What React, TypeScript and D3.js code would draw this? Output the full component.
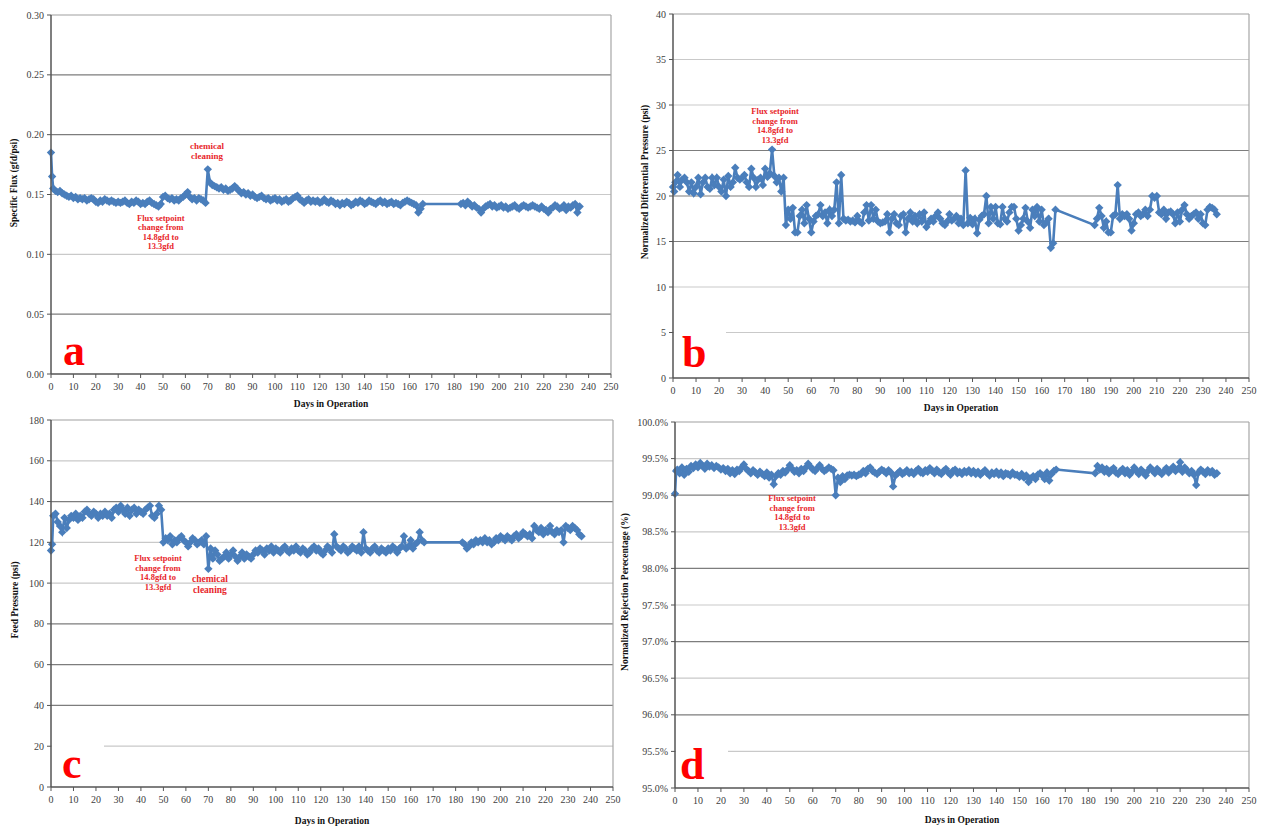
import React from 'react'
import * as d3 from 'd3'

// Days in operation (shared by all four series)
const days = [
  0, 0.5, 1, 2, 3, 4, 5, 6, 7, 8,
  9, 10, 11, 12, 13, 14, 15, 16, 17, 18,
  19, 20, 21, 22, 23, 24, 25, 26, 27, 28,
  29, 30, 31, 32, 33, 34, 35, 36, 37, 38,
  39, 40, 41, 42, 43, 44, 45, 46, 47, 48,
  49, 50, 51, 52, 53, 54, 55, 56, 57, 58,
  59, 60, 61, 62, 63, 64, 65, 66, 67, 68,
  69, 70, 71, 72, 73, 74, 75, 76, 77, 78,
  79, 80, 81, 82, 83, 84, 85, 86, 87, 88,
  89, 90, 91, 92, 93, 94, 95, 96, 97, 98,
  99, 100, 101, 102, 103, 104, 105, 106, 107, 108,
  109, 110, 111, 112, 113, 114, 115, 116, 117, 118,
  119, 120, 121, 122, 123, 124, 125, 126, 127, 128,
  129, 130, 131, 132, 133, 134, 135, 136, 137, 138,
  139, 140, 141, 142, 143, 144, 145, 146, 147, 148,
  149, 150, 151, 152, 153, 154, 155, 156, 157, 158,
  159, 160, 161, 162, 163, 164, 165, 166,
  183, 184, 185, 186, 187, 188, 189, 190, 191, 192,
  193, 194, 195, 196, 197, 198, 199, 200, 201, 202,
  203, 204, 205, 206, 207, 208, 209, 210, 211, 212,
  213, 214, 215, 216, 217, 218, 219, 220, 221, 222,
  223, 224, 225, 226, 227, 228, 229, 230, 231, 232,
  233, 234, 235, 236,
]

// (a) specific flux, gfd/psi
const fluxValues = [
  0.185, 0.165, 0.155, 0.153, 0.152, 0.153, 0.151, 0.150, 0.149, 0.148,
  0.149, 0.147, 0.148, 0.146, 0.147, 0.146, 0.147, 0.145, 0.146, 0.147,
  0.146, 0.144, 0.143, 0.145, 0.144, 0.146, 0.145, 0.144, 0.145, 0.144,
  0.143, 0.144, 0.143, 0.144, 0.145, 0.143, 0.142, 0.144, 0.143, 0.145,
  0.144, 0.142, 0.143, 0.142, 0.144, 0.145, 0.143, 0.142, 0.141, 0.140,
  0.142, 0.148, 0.149, 0.147, 0.146, 0.147, 0.145, 0.146, 0.145, 0.147,
  0.148, 0.150, 0.152, 0.148, 0.146, 0.147, 0.145, 0.147, 0.146, 0.145,
  0.143, 0.171, 0.160, 0.158, 0.157, 0.156, 0.155, 0.156, 0.154, 0.155,
  0.153, 0.154, 0.155, 0.157, 0.155, 0.153, 0.151, 0.152, 0.150, 0.151,
  0.149, 0.150, 0.148, 0.147, 0.148, 0.149, 0.147, 0.146, 0.147, 0.145,
  0.146, 0.147, 0.145, 0.146, 0.144, 0.145, 0.146, 0.144, 0.145, 0.147,
  0.148, 0.149, 0.146, 0.145, 0.143, 0.145, 0.146, 0.144, 0.145, 0.144,
  0.145, 0.143, 0.144, 0.146, 0.144, 0.143, 0.145, 0.144, 0.142, 0.143,
  0.141, 0.143, 0.142, 0.144, 0.143, 0.141, 0.142, 0.144, 0.143, 0.145,
  0.144, 0.142, 0.143, 0.145, 0.144, 0.143, 0.142, 0.144, 0.145, 0.143,
  0.144, 0.142, 0.143, 0.144, 0.142, 0.143, 0.142, 0.141, 0.143, 0.144,
  0.145, 0.144, 0.143, 0.142, 0.141, 0.135, 0.138, 0.142,
  0.142, 0.143, 0.141, 0.144, 0.142, 0.140, 0.141, 0.139, 0.138, 0.135,
  0.138, 0.140, 0.141, 0.142, 0.140, 0.141, 0.139, 0.140, 0.141, 0.139,
  0.140, 0.138, 0.139, 0.140, 0.141, 0.139, 0.138, 0.140, 0.141, 0.140,
  0.139, 0.140, 0.141, 0.140, 0.139, 0.138, 0.140, 0.138, 0.137, 0.135,
  0.138, 0.139, 0.141, 0.140, 0.138, 0.139, 0.141, 0.137, 0.140, 0.139,
  0.141, 0.142, 0.135, 0.140,
]

// (b) normalized differential pressure, psi
const dpValues = [
  21, 20.5, 21.5, 22.3, 21, 21.8, 22, 21.5, 20.5, 21.5,
  20.3, 21, 22, 20.2, 21.5, 22, 21, 20.8, 22, 21.2,
  22, 21, 20.5, 21.8, 20, 22.2, 21, 21.5, 23.1, 22,
  21.8, 22, 22.3, 21.5, 21, 23, 22, 21, 21.8, 22,
  21.2, 23, 22.1, 22.5, 25.1, 22.2, 21.5, 22, 20.5, 22,
  16.8, 18.5, 17.5, 18.7, 16, 16, 17.8, 18.5, 17, 19,
  17.5, 16, 17.2, 17.8, 18, 19, 17.8, 18.2, 17, 18.5,
  17.8, 18.5, 21.5, 17, 22.3, 17.5, 17.3, 17.4, 17.2, 17.3,
  17.1, 17.8, 17.2, 17, 18.2, 19, 17.3, 19, 17.5, 18.5,
  17.2, 17, 17.1, 17.2, 18, 16, 17.5, 18, 17, 16.8,
  17.8, 18, 16, 17.5, 18.2, 17.2, 17.8, 17, 18, 17.2,
  18.2, 16.6, 17.1, 17.5, 17.2, 17.8, 18.2, 17.5, 17, 16.8,
  17.2, 18, 17.3, 17.5, 17.8, 17, 17.5, 16.8, 22.8, 17,
  17.6, 16.9, 17.5, 15.9, 17.4, 17.8, 18, 20, 17, 18.8,
  17.5, 18.8, 17, 16.9, 18.8, 17.5, 17.2, 18.2, 18.8, 18.8,
  17.5, 16.2, 16.8, 17.5, 18.7, 17.2, 16.5, 18.5, 17.8, 18.8,
  17.2, 18.5, 16.8, 17.1, 17.5, 14.3, 14.8, 18.5,
  16.8, 17.5, 18.7, 17.8, 16.5, 17.2, 16, 16, 17.8, 18,
  21.2, 17.5, 18, 17.8, 18, 17.5, 16.2, 17, 18, 18.2,
  17.8, 18, 18.5, 17.8, 18.5, 20, 19.8, 20, 18.2, 18,
  18.5, 17.5, 18.2, 18.3, 18, 17, 18.2, 17.2, 18.5, 19,
  18, 17.5, 17.8, 18, 18.2, 17.5, 18, 17, 16.8, 18.5,
  18.8, 18.7, 18.5, 18,
]

// (c) feed pressure, psi
const feedValues = [
  116, 119, 133, 134, 130, 128, 125, 132, 127, 131,
  133, 132, 134, 131, 133, 132, 135, 136, 134, 133,
  135, 134, 132, 134, 133, 135, 133, 134, 132, 136,
  137, 135, 138, 136, 134, 137, 133, 136, 137, 134,
  136, 135, 134, 136, 137, 138, 133, 132, 134, 138,
  136, 120, 122, 121, 123, 119, 121, 120, 122, 123,
  121, 120, 118, 120, 122, 121, 119, 120, 121, 119,
  123, 107, 117, 112, 116, 114, 111, 112, 113, 115,
  112, 114, 116, 113, 111, 113, 115, 112, 114, 113,
  112, 114, 116, 115, 117, 116, 114, 117, 116, 118,
  115, 117, 116, 115, 117, 118, 116, 115, 117, 116,
  118, 116, 115, 117, 116, 114, 115, 117, 118, 116,
  117, 115, 114, 116, 118, 117, 115, 124, 118, 117,
  116, 118, 117, 115, 116, 118, 117, 116, 118, 115,
  125, 117, 116, 115, 117, 118, 116, 115, 117, 116,
  115, 117, 116, 118, 117, 115, 117, 118, 123, 117,
  118, 121, 117, 119, 120, 125, 121, 120,
  120, 119, 117, 118, 120, 119, 121, 120, 121, 120,
  122, 120, 121, 119, 120, 122, 121, 123, 122, 121,
  123, 122, 121, 123, 124, 122, 123, 125, 124, 123,
  124, 122, 128, 126, 125, 127, 124, 126, 125, 128,
  125, 124, 126, 125, 126, 120, 128, 127, 126, 128,
  127, 126, 124, 123,
]

// (d) normalized rejection, %
const rejectionValues = [
  99.02, 99.33, 99.35, 99.30, 99.38, 99.28, 99.36, 99.32, 99.40, 99.37,
  99.42, 99.38, 99.44, 99.40, 99.36, 99.43, 99.39, 99.41, 99.37, 99.40,
  99.38, 99.35, 99.37, 99.33, 99.36, 99.30, 99.34, 99.29, 99.35, 99.33,
  99.38, 99.42, 99.36, 99.33, 99.30, 99.34, 99.31, 99.28, 99.32, 99.29,
  99.26, 99.31, 99.24, 99.28, 99.15, 99.26, 99.30, 99.28, 99.33, 99.31,
  99.35, 99.41, 99.36, 99.32, 99.34, 99.30, 99.36, 99.33, 99.38, 99.43,
  99.39, 99.35, 99.33, 99.37, 99.41, 99.36, 99.33, 99.35, 99.38, 99.36,
  99.34, 99.00, 99.24, 99.18, 99.26, 99.22, 99.27, 99.28, 99.27, 99.28,
  99.26, 99.28, 99.29, 99.33, 99.30, 99.36, 99.38, 99.33, 99.31, 99.29,
  99.32, 99.35, 99.33, 99.30, 99.34, 99.31, 99.12, 99.27, 99.30, 99.33,
  99.29, 99.31, 99.34, 99.30, 99.32, 99.29, 99.33, 99.36, 99.31, 99.30,
  99.34, 99.32, 99.37, 99.33, 99.30, 99.35, 99.31, 99.29, 99.33, 99.36,
  99.31, 99.28, 99.33, 99.35, 99.30, 99.32, 99.29, 99.33, 99.31, 99.34,
  99.30, 99.33, 99.29, 99.32, 99.28, 99.31, 99.34, 99.30, 99.27, 99.31,
  99.29, 99.32, 99.28, 99.31, 99.26, 99.30, 99.29, 99.27, 99.31, 99.28,
  99.28, 99.25, 99.29, 99.24, 99.27, 99.18, 99.23, 99.26, 99.22, 99.28,
  99.30, 99.27, 99.22, 99.31, 99.20, 99.29, 99.33, 99.35,
  99.30, 99.40, 99.35, 99.38, 99.32, 99.36, 99.30, 99.34, 99.37, 99.31,
  99.29, 99.33, 99.36, 99.30, 99.34, 99.28, 99.32, 99.38, 99.33, 99.29,
  99.35, 99.31, 99.27, 99.33, 99.38, 99.34, 99.30, 99.36, 99.32, 99.29,
  99.33, 99.37, 99.31, 99.35, 99.39, 99.33, 99.36, 99.45, 99.32, 99.38,
  99.34, 99.30, 99.33, 99.28, 99.14, 99.31, 99.35, 99.32, 99.29, 99.34,
  99.31, 99.33, 99.28, 99.30,
]

const dayTicks = [0, 10, 20, 30, 40, 50, 60, 70, 80, 90, 100, 110, 120, 130, 140, 150, 160, 170, 180, 190, 200, 210, 220, 230, 240, 250]
const fluxTicks = [0, 0.05, 0.1, 0.15, 0.2, 0.25, 0.3]
const dpTicks = [0, 5, 10, 15, 20, 25, 30, 35, 40]
const feedTicks = [0, 20, 40, 60, 80, 100, 120, 140, 160, 180]
const rejectionTicks = [95, 95.5, 96, 96.5, 97, 97.5, 98, 98.5, 99, 99.5, 100]

const fluxNote = ['Flux setpoint', 'change from', '14.8gfd to', '13.3gfd']
const cleaningNote = ['chemical', 'cleaning']

const BLUE = '#4a7ebb'
const RED = '#e8262b'
const SERIF = '"Liberation Serif", "Times New Roman", serif'
const diamond = 'M0,-4.2L4.2,0L0,4.2L-4.2,0Z'

type Note = { day: number, value: number, lines: string[], size: number, lh: number }

type PanelProps = {
  x0: number, x1: number, yTop: number, yBottom: number
  values: number[], yTicks: number[], fmt: (v: number) => string
  darkTicks: number[]
  yTitle: string, titleX: number, titleY: number, xTitleY: number
  letter: string, letterDx: number, letterDy: number, box: boolean
  notes: Note[]
}

const Panel = (p: PanelProps) => {
  const x = d3.scaleLinear().domain([0, 250]).range([p.x0, p.x1])
  const y = d3.scaleLinear().domain(d3.extent(p.yTicks) as [number, number]).range([p.yBottom, p.yTop])
  const pts = days.map((d, i) => [d, p.values[i]] as [number, number]).filter(d => d[1] !== undefined)
  const line = d3.line<[number, number]>().x(d => x(d[0])).y(d => y(d[1]))
  const yMin = p.yTicks[0]

  return (
    <g>
      {/* gridlines */}
      {p.yTicks.filter(t => t !== yMin).map(t => (
        <line key={t} x1={p.x0} x2={p.x1} y1={y(t)} y2={y(t)}
          stroke={t === p.yTicks[p.yTicks.length - 1] ? '#a0a0a0' : p.darkTicks.includes(t) ? '#7d7d7d' : '#c9c9c9'}
          strokeWidth={1.2} />
      ))}
      <line x1={p.x1} x2={p.x1} y1={p.yTop} y2={p.yBottom} stroke="#a6a6a6" strokeWidth={1.2} />

      {/* series */}
      <path d={line(pts) || ''} fill="none" stroke={BLUE} strokeWidth={2.6} />
      {pts.map((d, i) => (
        <path key={i} d={diamond} transform={`translate(${x(d[0])},${y(d[1])})`} fill={BLUE} />
      ))}

      {/* letter box */}
      {p.box && <rect x={p.x0 + 1} y={p.yBottom - 50} width={52} height={49} fill="#fff" />}

      {/* axes */}
      <line x1={p.x0} x2={p.x0} y1={p.yTop} y2={p.yBottom} stroke="#555" strokeWidth={1.5} />
      <line x1={p.x0} x2={p.x1} y1={p.yBottom} y2={p.yBottom} stroke="#555" strokeWidth={1.5} />
      {p.yTicks.map(t => (
        <g key={t}>
          <line x1={p.x0 - 4} x2={p.x0} y1={y(t)} y2={y(t)} stroke="#555" />
          <text x={p.x0 - 7} y={y(t) + 3.5} textAnchor="end" fontSize={10} fill="#404040" fontFamily={SERIF}>{p.fmt(t)}</text>
        </g>
      ))}
      {dayTicks.map(t => (
        <g key={t}>
          <line x1={x(t)} x2={x(t)} y1={p.yBottom} y2={p.yBottom + 4} stroke="#555" />
          <text x={x(t)} y={p.yBottom + 16} textAnchor="middle" fontSize={10} fill="#404040" fontFamily={SERIF}>{t}</text>
        </g>
      ))}

      {/* titles */}
      <text x={(p.x0 + p.x1) / 2} y={p.xTitleY} textAnchor="middle" fontSize={9.5} fontWeight="bold" fill="#111" fontFamily={SERIF}>Days in Operation</text>
      <text transform={`translate(${p.titleX},${p.titleY}) rotate(-90)`} dy="0.35em" textAnchor="middle" fontSize={9.5} fontWeight="bold" fill="#111" fontFamily={SERIF}>{p.yTitle}</text>

      {/* annotations */}
      {p.notes.map((n, i) => (
        <text key={i} x={x(n.day)} y={y(n.value)} textAnchor="middle" fontSize={n.size} fontWeight="bold" fill={RED} fontFamily={SERIF}>
          {n.lines.map((l, j) => <tspan key={j} x={x(n.day)} dy={j === 0 ? 0 : n.lh}>{l}</tspan>)}
        </text>
      ))}

      <text x={p.x0 + p.letterDx} y={p.yBottom - p.letterDy} fontSize={44} fontWeight="bold" fill="#ff0000" fontFamily={SERIF}>{p.letter}</text>
    </g>
  )
}

const App = () => {
  return (
    <svg width={1265} height={827} style={{ position: 'absolute', left: 0, top: 0, background: '#fff' }}>
      <rect width={1265} height={827} fill="#fff" />
      <Panel x0={51} x1={611} yTop={15} yBottom={374} values={fluxValues} yTicks={fluxTicks}
        fmt={d3.format('.2f')} darkTicks={[0.25, 0.2, 0.05]}
        yTitle="Specific Flux (gfd/psi)" titleX={14} titleY={183} xTitleY={407}
        letter="a" letterDx={12} letterDy={9} box={false}
        notes={[
          { day: 69.6, value: 0.188, lines: cleaningNote, size: 9, lh: 10 },
          { day: 49, value: 0.128, lines: fluxNote, size: 8.5, lh: 9.5 },
        ]} />
      <Panel x0={673} x1={1249} yTop={14} yBottom={378} values={dpValues} yTicks={dpTicks}
        fmt={d3.format('d')} darkTicks={[25, 20, 15]}
        yTitle="Normalized Differential Pressure (psi)" titleX={645} titleY={182} xTitleY={411}
        letter="b" letterDx={9} letterDy={11} box={true}
        notes={[
          { day: 44.3, value: 29.0, lines: fluxNote, size: 8.5, lh: 9.5 },
        ]} />
      <Panel x0={51} x1={613} yTop={420} yBottom={787} values={feedValues} yTicks={feedTicks}
        fmt={d3.format('d')} darkTicks={[140, 80, 60, 40]}
        yTitle="Feed Pressure (psi)" titleX={15} titleY={600} xTitleY={824}
        letter="c" letterDx={11} letterDy={9} box={true}
        notes={[
          { day: 47.6, value: 110.8, lines: fluxNote, size: 8.5, lh: 9.5 },
          { day: 70.7, value: 100.5, lines: cleaningNote, size: 9.5, lh: 11 },
        ]} />
      <Panel x0={675} x1={1249} yTop={422} yBottom={788} values={rejectionValues} yTicks={rejectionTicks}
        fmt={v => d3.format('.1f')(v) + '%'} darkTicks={[99, 98, 97, 96]}
        yTitle="Normalized Rejection Perecentage (%)" titleX={625} titleY={592} xTitleY={823}
        letter="d" letterDx={5} letterDy={9} box={true}
        notes={[
          { day: 51, value: 98.92, lines: fluxNote, size: 8.5, lh: 9.5 },
        ]} />
    </svg>
  )
}

export default App
